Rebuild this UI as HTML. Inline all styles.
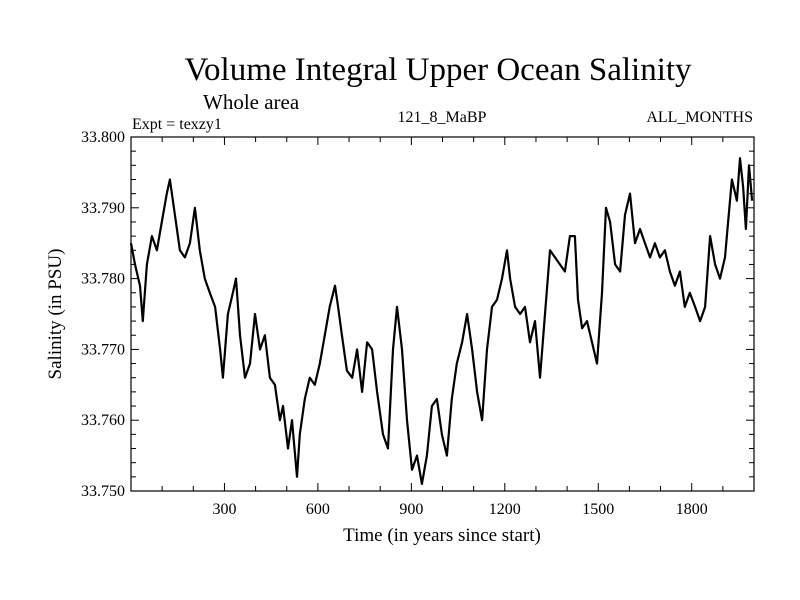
<!DOCTYPE html>
<html><head><meta charset="utf-8"><style>
body{margin:0;background:#fff}
svg{display:block;font-family:"Liberation Serif",serif}
</style></head><body>
<svg id="chart" width="800" height="600">
<text x="438" y="80" font-size="33" text-anchor="middle">Volume Integral Upper Ocean Salinity</text>
<text x="203" y="109" font-size="21">Whole area</text>
<text x="132" y="129" font-size="16">Expt = texzy1</text>
<text x="442" y="122" font-size="16" text-anchor="middle">121_8_MaBP</text>
<text x="753" y="122" font-size="16" text-anchor="end">ALL_MONTHS</text>
<text transform="translate(61,314) rotate(-90)" font-size="19" text-anchor="middle">Salinity (in PSU)</text>
<text x="442" y="541" font-size="19" text-anchor="middle">Time (in years since start)</text>
<g id="axes"></g>
<g id="series"></g>
</svg>
<script>
const years=[0,13,29,38,51,67,83,99,115,125,141,157,173,189,205,221,237,253,270,286,295,311,327,337,350,366,382,398,414,430,446,462,478,488,504,517,533,542,558,574,590,606,622,638,655,665,677,693,710,726,742,758,774,790,809,825,841,854,870,886,902,918,934,950,966,982,998,1014,1030,1046,1063,1079,1095,1111,1127,1143,1159,1175,1191,1207,1217,1233,1249,1265,1281,1297,1313,1329,1345,1361,1377,1393,1409,1425,1435,1448,1464,1480,1496,1512,1525,1538,1554,1570,1586,1602,1618,1634,1650,1666,1682,1698,1714,1730,1746,1762,1778,1794,1811,1827,1843,1859,1875,1891,1907,1917,1929,1945,1955,1965,1974,1984,1994];
const values=[33.785,33.782,33.779,33.774,33.782,33.786,33.784,33.788,33.792,33.794,33.789,33.784,33.783,33.785,33.790,33.784,33.780,33.778,33.776,33.770,33.766,33.775,33.778,33.780,33.772,33.766,33.768,33.775,33.770,33.772,33.766,33.765,33.760,33.762,33.756,33.760,33.752,33.758,33.763,33.766,33.765,33.768,33.772,33.776,33.779,33.776,33.772,33.767,33.766,33.770,33.764,33.771,33.770,33.764,33.758,33.756,33.770,33.776,33.770,33.760,33.753,33.755,33.751,33.755,33.762,33.763,33.758,33.755,33.763,33.768,33.771,33.775,33.770,33.764,33.760,33.770,33.776,33.777,33.780,33.784,33.780,33.776,33.775,33.776,33.771,33.774,33.766,33.775,33.784,33.783,33.782,33.781,33.786,33.786,33.777,33.773,33.774,33.771,33.768,33.778,33.790,33.788,33.782,33.781,33.789,33.792,33.785,33.787,33.785,33.783,33.785,33.783,33.784,33.781,33.779,33.781,33.776,33.778,33.776,33.774,33.776,33.786,33.782,33.780,33.783,33.788,33.794,33.791,33.797,33.793,33.787,33.796,33.791];
const yTicks=[33.750,33.760,33.770,33.780,33.790,33.800];
const xTicks=[300,600,900,1200,1500,1800];
const X0=131,X1=754,Y0=491,Y1=137;
const xs=v=>X0+(v-0)/(2000-0)*(X1-X0);
const ys=v=>Y0-(v-33.75)/(0.05)*(Y0-Y1);
const NS='http://www.w3.org/2000/svg';
const ax=document.getElementById('axes');
function mk(t,a,p){const e=document.createElementNS(NS,t);for(const k in a)e.setAttribute(k,a[k]);p.appendChild(e);return e;}
const frame=mk('rect',{x:X0,y:Y1,width:X1-X0,height:Y0-Y1,fill:'none',stroke:'#000','stroke-width':1.2},ax);


for(let v=100;v<2000;v+=100){const maj=v%300===0;const L=maj?8:5;
 mk('line',{x1:xs(v),x2:xs(v),y1:Y0,y2:Y0-L,stroke:'#000'},ax);
 mk('line',{x1:xs(v),x2:xs(v),y1:Y1,y2:Y1+L,stroke:'#000'},ax);}
for(let i=1;i<25;i++){const v=33.75+i*0.002;const maj=i%5===0;const L=maj?8:5;
 mk('line',{x1:X0,x2:X0+L,y1:ys(v),y2:ys(v),stroke:'#000'},ax);
 mk('line',{x1:X1,x2:X1-L,y1:ys(v),y2:ys(v),stroke:'#000'},ax);}
xTicks.forEach(v=>{const t=mk('text',{x:xs(v),y:514,'font-size':16,'text-anchor':'middle'},ax);t.textContent=v;
 
 });
yTicks.forEach(v=>{const t=mk('text',{x:125,y:ys(v)+5,'font-size':16,'text-anchor':'end'},ax);t.textContent=v.toFixed(3);
 
 });
const d=years.map((y,i)=>(i?'L':'M')+xs(y).toFixed(1)+','+ys(values[i]).toFixed(1)).join('');
const p=mk('path',{d:d,fill:'none',stroke:'#000','stroke-width':2.2,'stroke-linejoin':'round'},document.getElementById('series'));


</script>
</body></html>
